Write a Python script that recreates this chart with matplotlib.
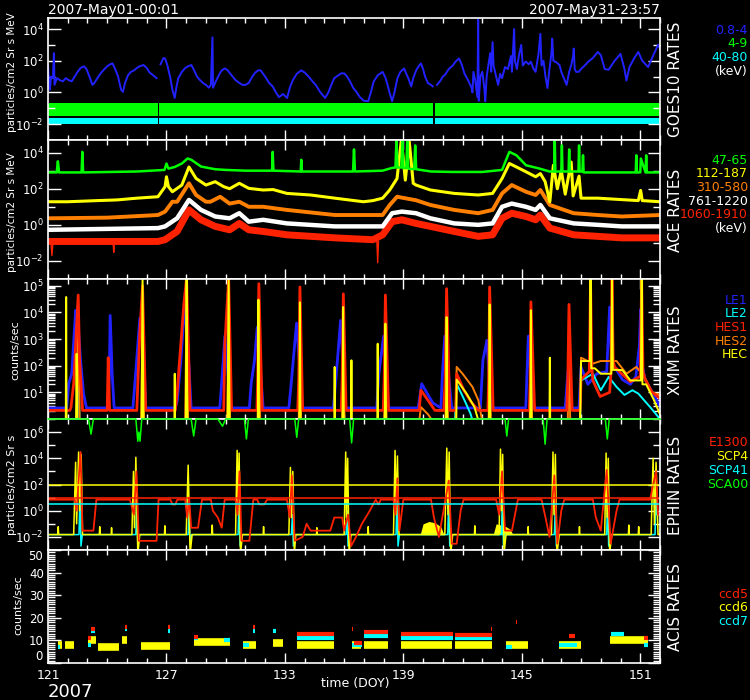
import matplotlib
matplotlib.use("Agg")
import matplotlib.pyplot as plt
import numpy as np
from matplotlib.ticker import FixedLocator, FixedFormatter, MultipleLocator, NullFormatter

BLUE = '#2222ff'
GREEN = '#00ff00'
CYAN = '#00ffff'
YELLOW = '#ffff00'
ORANGE = '#ff8000'
RED = '#ff2200'
WHITE = 'white'
nan = np.nan

# ---------------- GOES10 ----------------
goes_p1_t = [121.0, 121.05, 121.1, 121.15, 121.25, 121.3, 121.33, 121.45, 121.6, 121.75, 121.9, 122.05,
             122.2, 122.35, 122.5, 122.65, 122.82, 122.95, 123.1, 123.25, 123.35, 123.5, 123.65, 123.8,
             124.0, 124.15, 124.27, 124.4, 124.55, 124.7, 124.8, 124.9, 125.05, 125.2, 125.36, 125.5,
             125.65, 125.84, 126.0, 126.15, 126.33, 126.5, 126.6, 126.7, 126.85, 126.93, 127.05, 127.2,
             127.3, 127.42, 127.5, 127.6, 127.78, 127.95, 128.1, 128.26, 128.4, 128.55, 128.7, 128.85,
             129.0, 129.15, 129.25, 129.33, 129.36, 129.5, 129.65, 129.8, 129.96, 130.1, 130.3, 130.5,
             130.69, 130.85, 131.0, 131.17, 131.35, 131.5, 131.65, 131.77, 131.9, 132.05, 132.2, 132.38,
             132.55, 132.7, 132.9, 133.11, 133.25, 133.4, 133.6, 133.83, 134.0, 134.2, 134.4, 134.56,
             134.8, 135.04, 135.2, 135.35, 135.5, 135.7, 135.85, 136.01, 136.15, 136.3, 136.45, 136.62,
             136.8, 137.0, 137.22, 137.35, 137.5, 137.7, 137.95, 138.1, 138.2, 138.3, 138.43, 138.55,
             138.7, 138.85, 139.04, 139.15, 139.25, 139.4, 139.5, 139.65, 139.8, 139.89, 140.0, 140.1,
             140.25, 140.4, 140.49, 140.58, 140.7, 140.85, 141.0, 141.1, 141.3, 141.5, 141.65, 141.82,
             141.95, 142.1, 142.31, 142.45, 142.5, 142.55, 142.65, 142.75, 142.79, 142.82, 142.9, 143.0,
             143.1, 143.15, 143.22, 143.28, 143.4, 143.45, 143.52, 143.57, 143.7, 143.8, 143.9, 144.0,
             144.15, 144.3, 144.45, 144.5, 144.61, 144.65, 144.75, 144.85, 144.97, 145.05, 145.2, 145.35,
             145.46, 145.6, 145.7, 145.85, 145.94, 146.0, 146.1, 146.2, 146.3, 146.4, 146.5, 146.54,
             146.6, 146.75, 146.91, 147.0, 147.1, 147.2, 147.27, 147.4, 147.5, 147.6, 147.63, 147.68,
             147.75, 147.88, 148.0, 148.1, 148.25, 148.36, 148.5, 148.6, 148.75, 148.85, 149.0, 149.2,
             149.4, 149.7, 150.0, 150.2, 150.3, 150.45, 150.7, 150.9, 151.1, 151.4, 151.6, 151.9, 152.0]
goes_p1_v = [50, 5, 1.5, 10, 8, 300, 3, 8, 6, 5, 8, 6,
             5, 10, 20, 35, 45, 30, 10, 3, 4, 8, 15, 25,
             45, 60, 68, 30, 10, 1.5, 1.1, 4, 12, 20, 25, 35,
             45, 54, 35, 18, 12, 8, nan, 60, 150, 140, 50, 8,
             1.5, 0.45, 2, 8, 20, 35, 45, 54, 25, 10, 6, 4,
             3, 2, 3, 3000, 2, 5, 12, 25, 33, 25, 12, 6,
             4, 3, 3, 4, 10, 18, 25, 25, 15, 8, 4, 2.4,
             1, 0.5, 0.8, 0.45, 2, 6, 15, 25, 18, 10, 5, 3,
             1, 0.45, 1, 3, 8, 12, 16, 16, 10, 5, 2, 1.1,
             0.5, 0.3, 0.28, 1, 5, 12, 20, 8, 3, 1, 0.28, 1,
             8, 20, 33, 15, 8, 2.4, 8, 25, 50, 68, 30, 10,
             3.8, 3, 2.4, nan, 3, 5, 10, 12.6, 30, 50, 90, 140,
             60, 15, 5, 2, 1, 20, 5, 0.5, 4e4, 0.3, 10, 20,
             2, 0.28, 10, 33, 300, 20, 1500, 50, 10, 3, 15, 8,
             40, 30, 200, 20, 1e4, 100, 30, 200, 1000, 50, 90, 60,
             87, 30, 20, 300, 5000, 50, 100, 10, 1.9, 30, 300, 2500,
             100, 80, 54, 20, 10, 5, 3, 20, 50, 200, 590, 30,
             20, 20, 30, 40, 60, 87, 120, 150, 250, 360, 230, 30,
             27, 100, 270, 30, 5.6, 40, 150, 360, 100, 40, 150, 1000, 600]
goes_seg_start = [121.0, 126.62, 140.62]
goes_seg_end = [126.55, 140.5, 152.0]
goes_p2_low, goes_p2_high = 0.032, 0.21
goes_p5_low, goes_p5_high = 0.0105, 0.025

# ---------------- ACE ----------------
ace_green_t = [121.0, 121.44, 121.5, 121.56, 122.7, 122.74, 122.78, 125.5, 126.9, 127.0, 127.1, 127.42,
               127.78, 128.07, 128.26, 128.75, 129.0, 129.47, 130.0, 131.0, 132.35, 132.38, 132.42,
               133.8, 133.83, 133.86, 136.45, 136.5, 136.55, 137.95, 138.4, 138.6, 138.65, 138.7,
               138.9, 138.95, 139.0, 139.15, 139.2, 139.25, 139.55, 139.6, 139.65, 140.4, 141.5, 143.0,
               144.0, 144.37, 144.73, 145.21, 145.9, 146.4, 146.64, 146.67, 146.7, 147.0, 147.03,
               147.06, 147.37, 147.4, 147.43, 147.87, 147.9, 147.93, 148.07, 148.1, 148.13, 148.85,
               150.77, 150.8, 150.83, 151.0, 151.03, 151.27, 151.3, 151.33, 152.0]
ace_green_v = [800, 800, 3300, 800, 800, 1.1e4, 800, 900, 1100, 2500, 1300, 1600,
               2500, 4700, 4000, 1700, 1500, 1200, 1100, 1000, 1000, 1.1e4, 1000,
               900, 4000, 900, 900, 1.5e4, 900, 1000, 1400, 1500, 4.8e4, 1500,
               1500, 4.8e4, 1400, 1400, 4.8e4, 1300, 1200, 2.5e4, 1200, 900, 850, 850,
               1100, 1.1e4, 7100, 2000, 1300, 900, 900, 4.8e4, 900, 900, 2.5e4,
               900, 900, 1.5e4, 900, 900, 2.5e4, 900, 900, 7100, 800, 800,
               800, 7100, 800, 800, 4700, 800, 7100, 800, 800]
ace_yellow_t = [121.0, 122.0, 123.5, 124.5, 125.5, 126.57, 126.93, 127.0, 127.1, 127.3, 127.78, 128.14,
                128.5, 129.0, 129.47, 129.9, 130.2, 130.69, 131.17, 131.9, 132.4, 133.1, 134.3, 135.53,
                136.98, 137.46, 137.95, 138.31, 138.68, 138.9, 139.1, 139.3, 139.5, 139.64, 140.37,
                141.58, 142.79, 143.52, 144.0, 144.37, 144.73, 145.21, 145.7, 145.94, 146.18, 146.42,
                146.6, 146.8, 147.0, 147.2, 147.5, 147.6, 147.9, 148.0, 148.85, 150.06, 150.9, 151.02,
                151.1, 152.0]
ace_yellow_v = [19, 19, 22, 24, 30, 36, 130, 460, 130, 68, 160, 1600,
                370, 160, 245, 130, 100, 200, 105, 85, 90, 55, 45, 30,
                19, 22, 30, 85, 370, 5e4, 300, 4e4, 200, 160, 85,
                55, 45, 55, 370, 2500, 1600, 870, 460, 690, 250, 19,
                2000, 100, 1000, 50, 3000, 40, 500, 30, 30, 25, 22, 80,
                22, 19]
ace_orange_t = [121.0, 124.0, 126.57, 126.93, 127.3, 127.54, 128.14, 128.5, 129.0, 129.23, 129.72, 130.2,
                130.69, 131.17, 131.9, 133.1, 135.53, 137.95, 138.31, 138.68, 139.64, 140.37, 141.58,
                142.79, 143.52, 144.0, 144.49, 145.21, 145.7, 145.94, 146.42, 147.63, 148.85, 150.06, 152.0]
ace_orange_v = [2.3, 2.5, 3.5, 5.4, 19, 19, 200, 45, 19, 19, 36, 15,
                19, 10, 10, 6.7, 3.5, 3.5, 12.6, 36, 23, 12.6, 6.7,
                4.4, 6.7, 55, 160, 68, 45, 85, 12.6, 4.4, 3.5, 2.9, 3.5]
ace_white_t = [121.0, 126.57, 126.93, 127.54, 128.14, 128.75, 129.47, 130.2, 130.69, 131.17, 131.9, 133.1,
               135.53, 137.95, 138.43, 138.92, 139.64, 140.37, 141.58, 142.79, 143.52, 144.0, 144.49,
               145.21, 145.7, 145.94, 146.42, 147.63, 148.85, 150.06, 152.0]
ace_white_v = [0.53, 0.66, 0.82, 2.3, 24, 6.7, 2.9, 2.3, 4.4, 1.5, 1.9, 1.2,
               0.82, 0.82, 4.4, 5.4, 4.4, 2.3, 1.2, 1.0, 1.2, 10, 15,
               10, 6.7, 12.6, 2.3, 1.2, 1.0, 0.82, 0.82]
ace_red_t = [121.0, 126.57, 126.93, 127.54, 128.14, 128.75, 129.47, 130.2, 130.69,
             131.17, 131.9, 133.1, 135.53, 137.46, 137.95, 138.43, 138.92, 139.64,
             140.37, 141.58, 142.79, 143.52, 144.0, 144.49, 145.21, 145.7, 145.94, 146.42, 147.63,
             148.85, 150.06, 152.0]
ace_red_v = [0.12, 0.12, 0.15, 0.43, 6.7, 1.9, 0.82, 0.53, 1.2,
             0.53, 0.43, 0.28, 0.19, 0.15, 0.28, 1.5, 1.9, 1.2,
             0.82, 0.43, 0.23, 0.28, 2.3, 4.4, 2.9, 1.9, 3.5, 0.66, 0.28,
             0.23, 0.19, 0.19]
# short downward spikes below the red band (nan splits them)
ace_red_drop_t = [121.15, 121.2, 121.25, 121.3, 124.3, 124.33, 124.36, 124.4, 137.66, 137.7, 137.74]
ace_red_drop_v = [0.1, 0.02, 0.1, nan, 0.1, 0.03, 0.1, nan, 0.12, 0.008, 0.12]

# ---------------- XMM ----------------
xmm_le1_t = [121.0, 121.95, 122.05, 122.2, 122.4, 122.5, 122.65, 122.8, 122.95, 124.0, 124.1, 124.15, 124.25,
             124.35, 125.3, 125.4, 125.65, 125.8, 125.95, 127.45, 127.55, 127.73, 127.92, 128.07, 128.25,
             129.7, 129.77, 129.96, 130.25, 131.2, 131.29, 131.46, 131.6, 131.9, 133.2, 133.3, 133.59,
             133.9, 135.45, 135.53, 135.82, 136.05, 137.65, 137.76, 138.0, 138.25, 139.75, 139.93,
             140.25, 140.5, 140.9, 140.98, 141.1, 141.45, 142.9, 143.03, 143.23, 143.45, 145.2, 145.33,
             145.55, 147.2, 147.34, 147.5, 147.9, 148.0, 148.35, 148.8, 149.3, 149.45, 149.55, 149.7,
             150.1, 150.5, 150.78, 150.95, 151.02, 151.1, 151.25, 151.6, 152.0]
xmm_le1_v = [2.6, 2.6, 21, 50, 1.2e4, 6700, 160, 9, 2.6, 2.6, 30, 7700, 50,
             2.6, 2.6, 21, 6000, 4000, 2.6, 2.6, 5, 160, 2e4, 900, 2.6,
             2.6, 12, 1300, 2.6, 2.6, 21, 160, 2800, 2.6, 2.6, 15, 4000,
             2.6, 2.6, 10, 5000, 2.6, 2.6, 50, 1300, 2.6, 2.6, 21,
             8, 4, 2.6, 50, 1300, 2.6, 2.6, 160, 900, 2.6, 2.6, 1300,
             2.6, 2.6, 68, 2.6, 2.6, 90, 20, 50, 60, 1.6e4, 150, 90,
             30, 20, 40, 500, 1.3e4, 100, 30, 10, 3]
xmm_le2_t = [121.0, 122.45, 122.52, 122.6, 141.6, 141.7, 142.1, 142.4, 142.6, 147.95, 148.0, 148.6,
             149.0, 149.4, 149.8, 150.2, 150.6, 150.9, 151.5, 152.0]
xmm_le2_v = [0.5, 0.5, 1600, 0.5, 0.5, 21, 5, 1.6, 0.5, 0.5, 28, 50,
             12, 38, 16, 8, 12, 9, 2.8, 1.0]
xmm_hes1_t = [121.0, 122.1, 122.16, 122.3, 122.53, 122.6, 122.75, 124.0, 124.05, 124.12, 125.5, 125.55,
              125.65, 125.79, 125.95, 127.45, 127.55, 127.88, 128.02, 128.2, 129.9, 129.96, 130.15,
              130.3, 131.58, 131.62, 131.68, 131.85, 133.65, 133.7, 133.76, 133.9, 135.85, 135.9,
              135.96, 136.1, 137.98, 138.03, 138.09, 138.25, 139.8, 139.89, 140.25, 140.6, 141.05,
              141.12, 141.19, 141.35, 141.65, 141.7, 142.07, 142.43, 142.8, 143.28, 143.32, 143.37,
              143.55, 145.38, 145.42, 145.46, 145.65, 147.28, 147.33, 147.39, 147.55, 147.95, 148.0,
              148.3, 148.42, 148.48, 148.55, 148.6, 148.97, 149.45, 149.52, 149.57, 149.63, 149.7,
              150.06, 150.5, 151.0, 151.07, 151.14, 151.25, 151.6, 152.0]
xmm_hes1_v = [2.1, 2.1, 2.6, 21, 4.5e4, 160, 2.1, 2.1, 200, 2.1, 2.1, 21,
              1600, 1e5, 2.1, 2.1, 12, 2e4, 2e5, 2.1, 2.1, 670, 2e5,
              2.1, 2.1, 30, 1.2e5, 2.1, 2.1, 30, 9e4, 2.1, 2.1, 30,
              5e4, 2.1, 2.1, 30, 4.5e4, 2.1, 2.1, 12, 5, 2.1, 2.1,
              30, 7.8e4, 2.1, 2.1, 50, 12, 4.4, 2.1, 2.1, 30, 9e4,
              2.1, 2.1, 30, 2.5e4, 2.1, 2.1, 30, 2e4, 2.1, 2.1, 30,
              50, 60, 2e5, 80, 28, 7, 10, 60, 2e5, 150, 90,
              50, 25, 40, 2e5, 60, 30, 10, 6]
xmm_hes2_t = [121.0, 122.45, 122.53, 122.6, 125.72, 125.79, 125.86, 127.95, 128.02, 128.1, 130.08, 130.15,
              130.22, 131.62, 131.68, 131.75, 133.7, 133.76, 133.82, 135.9, 135.96, 136.02, 138.03,
              138.09, 138.15, 139.8, 139.89, 140.25, 140.5, 141.13, 141.19, 141.26, 141.65, 141.7,
              142.0, 142.5, 142.8, 143.0, 143.32, 143.37, 143.43, 145.4, 145.46, 145.52, 147.33,
              147.39, 147.45, 147.95, 148.0, 148.6, 149.0, 149.8, 150.3, 150.8, 151.2, 151.6, 152.0]
xmm_hes2_v = [0.8, 0.8, 1e4, 0.8, 0.8, 3e4, 0.8, 0.8, 5e4, 0.8, 0.8, 5e4,
              0.8, 0.8, 3e4, 0.8, 0.8, 2e4, 0.8, 0.8, 1e4, 0.8, 0.8,
              1e4, 0.8, 0.8, 2.8, 1.5, 0.8, 0.8, 2e4, 0.8, 0.8, 90,
              50, 16, 5, 0.8, 0.8, 2e4, 0.8, 0.8, 5e3, 0.8, 0.8,
              5e3, 0.8, 0.8, 200, 120, 150, 150, 50, 90, 40, 10, 8]
xmm_hec_t = [121.0, 121.9, 121.92, 121.94, 122.42, 122.45, 122.48, 125.74, 125.79, 125.84, 127.4, 127.42,
             127.44, 127.98, 128.02, 128.06, 130.1, 130.15, 130.2, 131.63, 131.66, 131.69, 133.73,
             133.76, 133.79, 135.5, 135.52, 135.54, 135.92, 135.95, 135.98, 136.35, 136.37, 136.39,
             137.68, 137.7, 137.72, 138.06, 138.09, 138.12, 141.16, 141.19, 141.22, 141.68, 141.7,
             142.2, 142.6, 142.9, 143.34, 143.37, 143.4, 145.43, 145.46, 145.49, 146.4, 146.42,
             146.44, 147.95, 148.0, 148.45, 148.48, 148.52, 148.7, 149.0, 149.53, 149.57, 149.61,
             149.8, 150.1, 150.5, 151.03, 151.07, 151.11, 151.3, 151.7, 152.0]
xmm_hec_v = [0.5, 0.5, 3.8e4, 0.5, 0.5, 280, 0.5, 0.5, 2e5, 0.5, 0.5, 50,
             0.5, 0.5, 2e5, 0.5, 0.5, 2e5, 0.5, 0.5, 3e4, 0.5, 0.5,
             2.4e4, 0.5, 0.5, 90, 0.5, 0.5, 1.6e4, 0.5, 0.5, 160, 0.5,
             0.5, 670, 0.5, 0.5, 3800, 0.5, 0.5, 6700, 0.5, 0.5, 30,
             9, 2.8, 0.5, 0.5, 2e4, 0.5, 0.5, 1.2e4, 0.5, 0.5, 200,
             0.5, 0.5, 150, 150, 2e5, 80, 80, 50, 50, 2e5, 70,
             70, 68, 28, 28, 2e5, 20, 20, 5, 1.5]

# ---------------- EPHIN ----------------
eph_e1300_t = [121.0, 122.35, 122.45, 122.55, 122.65, 122.75, 123.3, 123.45, 125.15, 125.35, 125.48, 125.6,
               126.5, 126.6, 127.2, 127.3, 127.45, 127.55, 127.95, 128.05, 128.15, 128.25, 128.6, 128.8,
               129.25, 129.35, 129.6, 129.8, 129.95, 130.5, 130.6, 130.7, 130.8, 131.2, 131.4, 131.6,
               131.7, 131.95, 132.1, 133.1, 133.25, 133.35, 133.5, 133.9, 134.1, 134.3, 135.3, 135.5,
               135.9, 136.0, 136.2, 136.35, 136.6, 136.9, 137.3, 137.6, 137.75, 137.85, 138.5, 138.6,
               138.7, 138.8, 139.0, 140.4, 140.55, 140.8, 141.3, 141.45, 141.7, 141.9, 142.05, 143.7,
               143.85, 144.0, 144.15, 144.5, 144.8, 146.0, 146.2, 146.4, 146.65, 146.8, 147.0, 147.15,
               148.6, 148.75, 149.0, 149.3, 149.5, 149.8, 149.95, 151.5, 151.65, 151.8, 151.9, 152.0]
eph_e1300_v = [7, 7, 1.0, 200, 3e4, 0.03, 0.03, 7, 7, 0.5, 1000, 0.005,
               0.005, 7, 7, 3, 3, 7, 7, 0.3, 10, 0.05, 0.05, 7,
               7, 1, 0.3, 0.05, 7, 7, 0.5, 1000, 0.005, 0.005, 7, 7,
               3, 3, 7, 7, 0.3, 500, 0.005, 0.01, 0.1, 0.03, 0.03, 0.3,
               0.3, 0.03, 0.5, 0.002, 0.01, 0.1, 1, 7, 3, 7, 7, 0.5,
               300, 0.03, 7, 7, 0.3, 0.01, 200, 0.003, 0.003, 1, 7, 7,
               0.5, 1000, 0.03, 0.03, 7, 7, 0.3, 0.01, 500, 0.003, 1, 7,
               7, 0.3, 0.03, 1300, 0.003, 1, 7, 7, 100, 1000, 0.5, 0.5]
eph_scp4_t = [121.0, 121.5, 121.52, 121.54, 122.3, 122.4, 122.45, 122.55, 122.6, 122.68, 122.75, 123.6,
              123.62, 123.64, 124.2, 124.22, 124.24, 125.25, 125.33, 125.38, 125.45, 125.55, 125.65,
              126.9, 126.92, 126.94, 128.0, 128.1, 128.2, 128.3, 129.3, 129.32, 129.34, 130.5, 130.58,
              130.62, 130.68, 130.75, 130.85, 131.9, 131.92, 131.94, 133.2, 133.28, 133.33, 133.4,
              133.48, 133.55, 134.6, 134.62, 134.64, 136.0, 136.08, 136.12, 136.18, 136.25, 136.35,
              137.2, 137.22, 137.24, 138.5, 138.58, 138.63, 138.7, 138.78, 141.1, 141.2, 141.26,
              141.32, 141.4, 141.5, 142.6, 142.62, 142.64, 143.85, 143.92, 143.97, 144.03, 144.1,
              144.2, 145.3, 145.32, 145.34, 146.5, 146.58, 146.63, 146.7, 146.78, 146.9, 147.9,
              147.92, 147.94, 149.2, 149.27, 149.32, 149.38, 149.45, 149.55, 150.4, 150.42, 150.44,
              150.9, 150.92, 150.94, 151.55, 151.65, 151.72, 151.8, 151.9, 152.0]
eph_scp4_v = [0.015, 0.015, 0.06, 0.015, 0.015, 5e3, 0.1, 3e4, 1, 2e4, 0.015, 0.015,
              0.06, 0.015, 0.015, 0.05, 0.015, 0.015, 1e3, 0.05, 1.2e4, 0.0005, 0.015,
              0.015, 0.07, 0.015, 0.015, 3e3, 0.0005, 0.015, 0.015, 0.08, 0.015, 0.015, 4e4,
              0.5, 2.5e4, 0.0005, 0.015, 0.015, 0.06, 0.015, 0.015, 2e3, 0.3, 1e3,
              0.0005, 0.015, 0.015, 0.05, 0.015, 0.015, 3e4, 0.3, 1e4, 0.0005, 0.015,
              0.015, 0.06, 0.015, 0.015, 4e4, 0.5, 1.5e4, 0.015, 0.015, 6e4, 0.5,
              3e4, 0.0005, 0.015, 0.015, 0.07, 0.015, 0.015, 5e4, 1, 2e4, 0.0005,
              0.015, 0.015, 0.06, 0.015, 0.015, 3e4, 0.5, 2e4, 0.0005, 0.015, 0.015,
              0.06, 0.015, 0.015, 2.5e4, 0.3, 1e4, 0.0005, 0.015, 0.015, 0.08, 0.015,
              0.015, 0.06, 0.015, 0.015, 1e4, 0.1, 5e3, 0.015, 0.015]
eph_scp4_fill_t = [139.85, 140.0, 140.3, 140.6, 140.9, 141.05, 143.55, 143.7, 144.2, 144.4, 144.55]
eph_scp4_fill_v = [0.015, 0.1, 0.15, 0.12, 0.06, 0.015, 0.015, 0.1, 0.06, 0.04, 0.015]
eph_scp41_t = [121.0, 122.57, 122.62, 122.67, 122.74, 125.45, 125.5, 125.55, 125.62, 128.1, 128.15, 128.2,
               128.27, 130.63, 130.68, 130.73, 130.8, 133.33, 133.38, 133.43, 133.5, 136.1, 136.15,
               136.2, 136.27, 138.63, 138.68, 138.73, 138.8, 141.25, 141.3, 141.35, 141.42, 143.97,
               144.02, 144.07, 144.14, 146.65, 146.7, 146.75, 146.82, 149.3, 149.35, 149.4, 149.47,
               151.75, 151.8, 151.85, 152.0]
eph_scp41_v = [0.015, 0.015, 20, 0.002, 0.015, 0.015, 5, 0.002, 0.015, 0.015, 1, 0.002,
               0.015, 0.015, 10, 0.002, 0.015, 0.015, 0.5, 0.002, 0.015, 0.015, 1,
               0.002, 0.015, 0.015, 10, 0.002, 0.015, 0.015, 10, 0.002, 0.015, 0.015,
               20, 0.002, 0.015, 0.015, 3, 0.002, 0.015, 0.015, 10, 0.002, 0.015,
               0.015, 30, 0.5, 0.5]
eph_sca00_t = [121.0, 123.05, 123.18, 123.3, 125.45, 125.55, 125.6, 125.66, 125.75, 128.25, 128.38, 128.5,
               129.6, 129.84, 130.0, 130.95, 131.05, 131.15, 133.5, 133.6, 133.7, 136.28, 136.38,
               136.48, 144.15, 144.24, 144.33, 146.08, 146.18, 146.28, 149.23, 149.33, 149.43, 152.0]
eph_sca00_v = [1e7, 1e7, 7e5, 1e7, 1e7, 2e5, 1e6, 2e5, 1e7, 1e7, 5e5, 1e7,
               1e7, 2.8e6, 1e7, 1e7, 3e5, 1e7, 1e7, 4e5, 1e7, 1e7, 1.5e5,
               1e7, 1e7, 5e5, 1e7, 1e7, 1.2e5, 1e7, 1e7, 3e5, 1e7, 1e7]
eph_limit_levels = [100, 10, 3]
eph_limit_colors = [YELLOW, RED, CYAN]

# ---------------- ACIS ----------------
ccd6_start = [121.5, 121.85, 123.05, 123.55, 124.75, 125.7, 128.4, 130.9, 132.4, 133.6, 136.4, 137.0, 138.9,
              141.6, 144.2, 146.9, 149.45]
ccd6_end = [121.72, 122.33, 123.42, 124.62, 125.0, 127.2, 130.2, 131.52, 132.9, 135.5, 136.85, 138.2, 141.45,
            143.5, 145.3, 148.0, 151.4]
ccd6_level = [8, 8, 10, 7.3, 10, 7.5, 9.5, 8, 9, 8, 8, 8, 8, 8, 8, 8, 10]
ccd7_start = [121.5, 123.05, 123.2, 124.9, 127.1, 128.4, 129.9, 130.9, 131.4, 132.4, 133.6, 136.4, 137.0,
              138.9, 141.6, 144.2, 146.9, 149.5, 151.2]
ccd7_end = [121.6, 123.2, 123.4, 125.0, 127.2, 128.6, 130.2, 131.2, 131.5, 132.55, 135.5, 136.9, 138.2,
            141.5, 143.5, 144.5, 147.8, 150.2, 151.4]
ccd7_level = [7, 8, 14, 15, 14, 11, 10, 8, 14, 14, 11, 8, 12, 11, 11, 7, 8, 13, 8]
ccd5_start = [123.05, 123.2, 124.9, 127.1, 128.4, 131.4, 133.6, 136.4, 136.5, 137.0, 138.9, 141.6, 143.45,
              144.7, 147.4, 151.2]
ccd5_end = [123.2, 123.4, 125.0, 127.2, 128.6, 131.5, 135.5, 136.45, 136.9, 138.2, 141.5, 143.5, 143.5,
            144.75, 147.7, 151.4]
ccd5_level = [11, 15, 16, 16, 11.5, 16, 13, 15, 9, 13.5, 13, 12.5, 15, 18, 12, 11]

doy_major = [121, 127, 133, 139, 145, 151]
acis_ticks = [0, 10, 20, 30, 40, 50]

W, H = 750, 700
fig = plt.figure(figsize=(W / 100, H / 100), dpi=100, facecolor='black')


def frac(x, y):
    return x / W, 1 - y / H


def make_panel(top, bottom, ylim, log=True):
    ax = fig.add_axes([48 / W, 1 - bottom / H, 612 / W, (bottom - top) / H], facecolor='black')
    ax.set_xlim(121, 152)
    if log:
        ax.set_yscale('log')
    ax.set_ylim(*ylim)
    for s in ax.spines.values():
        s.set_color(WHITE)
        s.set_linewidth(1.2)
    ax.xaxis.set_major_locator(FixedLocator(doy_major))
    ax.xaxis.set_minor_locator(MultipleLocator(1))
    ax.tick_params(axis='x', which='major', direction='in', length=7, width=1, colors=WHITE,
                   top=True, bottom=True, labelbottom=False)
    ax.tick_params(axis='x', which='minor', direction='in', length=3.5, width=1, colors=WHITE,
                   top=True, bottom=True)
    ax.tick_params(axis='y', which='major', direction='in', length=9, width=1, colors=WHITE,
                   left=True, right=True, labelsize=8.5, pad=3)
    ax.tick_params(axis='y', which='minor', direction='in', length=5, width=1, colors=WHITE,
                   left=True, right=True)
    return ax


def log_ticks(ax, lo, hi, labelled):
    majors = [10.0 ** e for e in labelled]
    ax.yaxis.set_major_locator(FixedLocator(majors))
    ax.yaxis.set_major_formatter(FixedFormatter(['$10^{%d}$' % e for e in labelled]))
    ax.yaxis.set_minor_locator(FixedLocator([10.0 ** e for e in range(lo, hi + 1) if e not in labelled]))
    ax.yaxis.set_minor_formatter(NullFormatter())


# ---- GOES panel
ax1 = make_panel(18, 140, (1e-3, 5e4))
log_ticks(ax1, -3, 4, [-2, 0, 2, 4])
for s, e in zip(goes_seg_start, goes_seg_end):
    ax1.fill_between([s, e], goes_p2_low, goes_p2_high, color=GREEN, lw=0)
    ax1.fill_between([s, e], goes_p5_low, goes_p5_high, color=CYAN, lw=0)
ax1.plot(goes_p1_t, goes_p1_v, color=BLUE, lw=1.4)

# ---- ACE panel
ax2 = make_panel(140, 279, (1e-3, 5e4))
log_ticks(ax2, -3, 4, [-2, 0, 2, 4])
ax2.plot(ace_red_drop_t, ace_red_drop_v, color=RED, lw=1)
ax2.plot(ace_red_t, ace_red_v, color=RED, lw=5)
ax2.plot(ace_white_t, ace_white_v, color=WHITE, lw=3.2)
ax2.plot(ace_orange_t, ace_orange_v, color=ORANGE, lw=2.8)
ax2.plot(ace_yellow_t, ace_yellow_v, color=YELLOW, lw=2.2)
ax2.plot(ace_green_t, ace_green_v, color=GREEN, lw=1.8)

# ---- XMM panel
ax3 = make_panel(279, 419, (1, 1.8e5))
log_ticks(ax3, 0, 5, [1, 2, 3, 4, 5])
ax3.yaxis.set_minor_locator(FixedLocator([m * 10.0 ** e for e in range(0, 6) for m in range(2, 10)]))
ax3.plot(xmm_le1_t, xmm_le1_v, color=BLUE, lw=2)
ax3.plot(xmm_le2_t, xmm_le2_v, color=CYAN, lw=1.4)
ax3.plot(xmm_hes2_t, xmm_hes2_v, color=ORANGE, lw=1.4)
ax3.plot(xmm_hes1_t, xmm_hes1_v, color=RED, lw=2)
ax3.plot(xmm_hec_t, xmm_hec_v, color=YELLOW, lw=1.4)

# ---- EPHIN panel
ax4 = make_panel(419, 550, (1e-3, 1e7))
log_ticks(ax4, -3, 7, [-2, 0, 2, 4, 6])
ax4.plot(eph_scp41_t, eph_scp41_v, color=CYAN, lw=1.1)
ax4.fill_between(eph_scp4_fill_t, 0.015, eph_scp4_fill_v, color=YELLOW, lw=0)
ax4.plot(eph_scp4_t, eph_scp4_v, color=YELLOW, lw=1.1)
ax4.plot(eph_e1300_t, eph_e1300_v, color=RED, lw=1.3)
for lev, c in zip(eph_limit_levels, eph_limit_colors):
    ax4.axhline(lev, color=c, lw=1.1)
ax4.plot(eph_sca00_t, eph_sca00_v, color=GREEN, lw=1.1, clip_on=False, zorder=5)

# ---- ACIS panel
ax5 = make_panel(550, 663, (0, 50), log=False)
ax5.yaxis.set_major_locator(FixedLocator(acis_ticks))
# end labels are placed by hand so they sit inside the panel height
ax5.yaxis.set_major_formatter(FixedFormatter([''] + [str(v) for v in acis_ticks[1:-1]] + ['']))
ax5.yaxis.set_minor_locator(MultipleLocator(1))
ylab_tr = ax5.get_yaxis_text1_transform(4)[0]
ax5.text(0, acis_ticks[0], str(acis_ticks[0]), transform=ylab_tr, color=WHITE, fontsize=8.5,
         ha='right', va='bottom')
ax5.text(0, acis_ticks[-1], str(acis_ticks[-1]), transform=ylab_tr, color=WHITE, fontsize=8.5,
         ha='right', va='top')
ax5.hlines(ccd6_level, ccd6_start, ccd6_end, colors=YELLOW, lw=5.5)
ax5.hlines(ccd7_level, ccd7_start, ccd7_end, colors=CYAN, lw=3)
ax5.hlines(ccd5_level, ccd5_start, ccd5_end, colors=RED, lw=3)
ax5.tick_params(axis='x', which='major', labelbottom=True, labelsize=9, pad=4)

# ---- texts
fig.text(*frac(48, 10), '2007-May01-00:01', color=WHITE, fontsize=10, ha='left', va='center')
fig.text(*frac(660, 10), '2007-May31-23:57', color=WHITE, fontsize=10, ha='right', va='center')
fig.text(*frac(355, 684), 'time (DOY)', color=WHITE, fontsize=9, ha='center', va='center')
fig.text(*frac(48, 692), '2007', color=WHITE, fontsize=13, ha='left', va='center')

ylabels = [('particles/cm2 Sr s MeV', 12, 72, 7.5), ('particles/cm2 Sr s MeV', 12, 212, 7.5),
           ('counts/sec', 15, 350, 8), ('particles/cm2 Sr s', 12, 485, 8), ('counts/sec', 18, 605, 8)]
for txt, x, y, fs in ylabels:
    fig.text(*frac(x, y), txt, color=WHITE, fontsize=fs, rotation=90, ha='center', va='center')

titles = [('GOES10 RATES', 79), ('ACE RATES', 210), ('XMM RATES', 350), ('EPHIN RATES', 485),
          ('ACIS RATES', 607)]
for txt, y in titles:
    fig.text(*frac(675, y), txt, color=WHITE, fontsize=11, rotation=90, ha='center', va='center')

legends = [
    (['0.8-4', '4-9', '40-80', '(keV)'], [BLUE, GREEN, CYAN, WHITE], 30),
    (['47-65', '112-187', '310-580', '761-1220', '1060-1910', '(keV)'],
     [GREEN, YELLOW, ORANGE, WHITE, RED, WHITE], 160),
    (['LE1', 'LE2', 'HES1', 'HES2', 'HEC'], [BLUE, CYAN, RED, ORANGE, YELLOW], 300),
    (['E1300', 'SCP4', 'SCP41', 'SCA00'], [RED, YELLOW, CYAN, GREEN], 443),
    (['ccd5', 'ccd6', 'ccd7'], [RED, YELLOW, CYAN], 594),
]
for names, cols, y0 in legends:
    for i, (n, c) in enumerate(zip(names, cols)):
        fig.text(*frac(748, y0 + 13.7 * i), n, color=c, fontsize=9, ha='right', va='center')

fig.savefig('out.png', dpi=100, facecolor='black')
